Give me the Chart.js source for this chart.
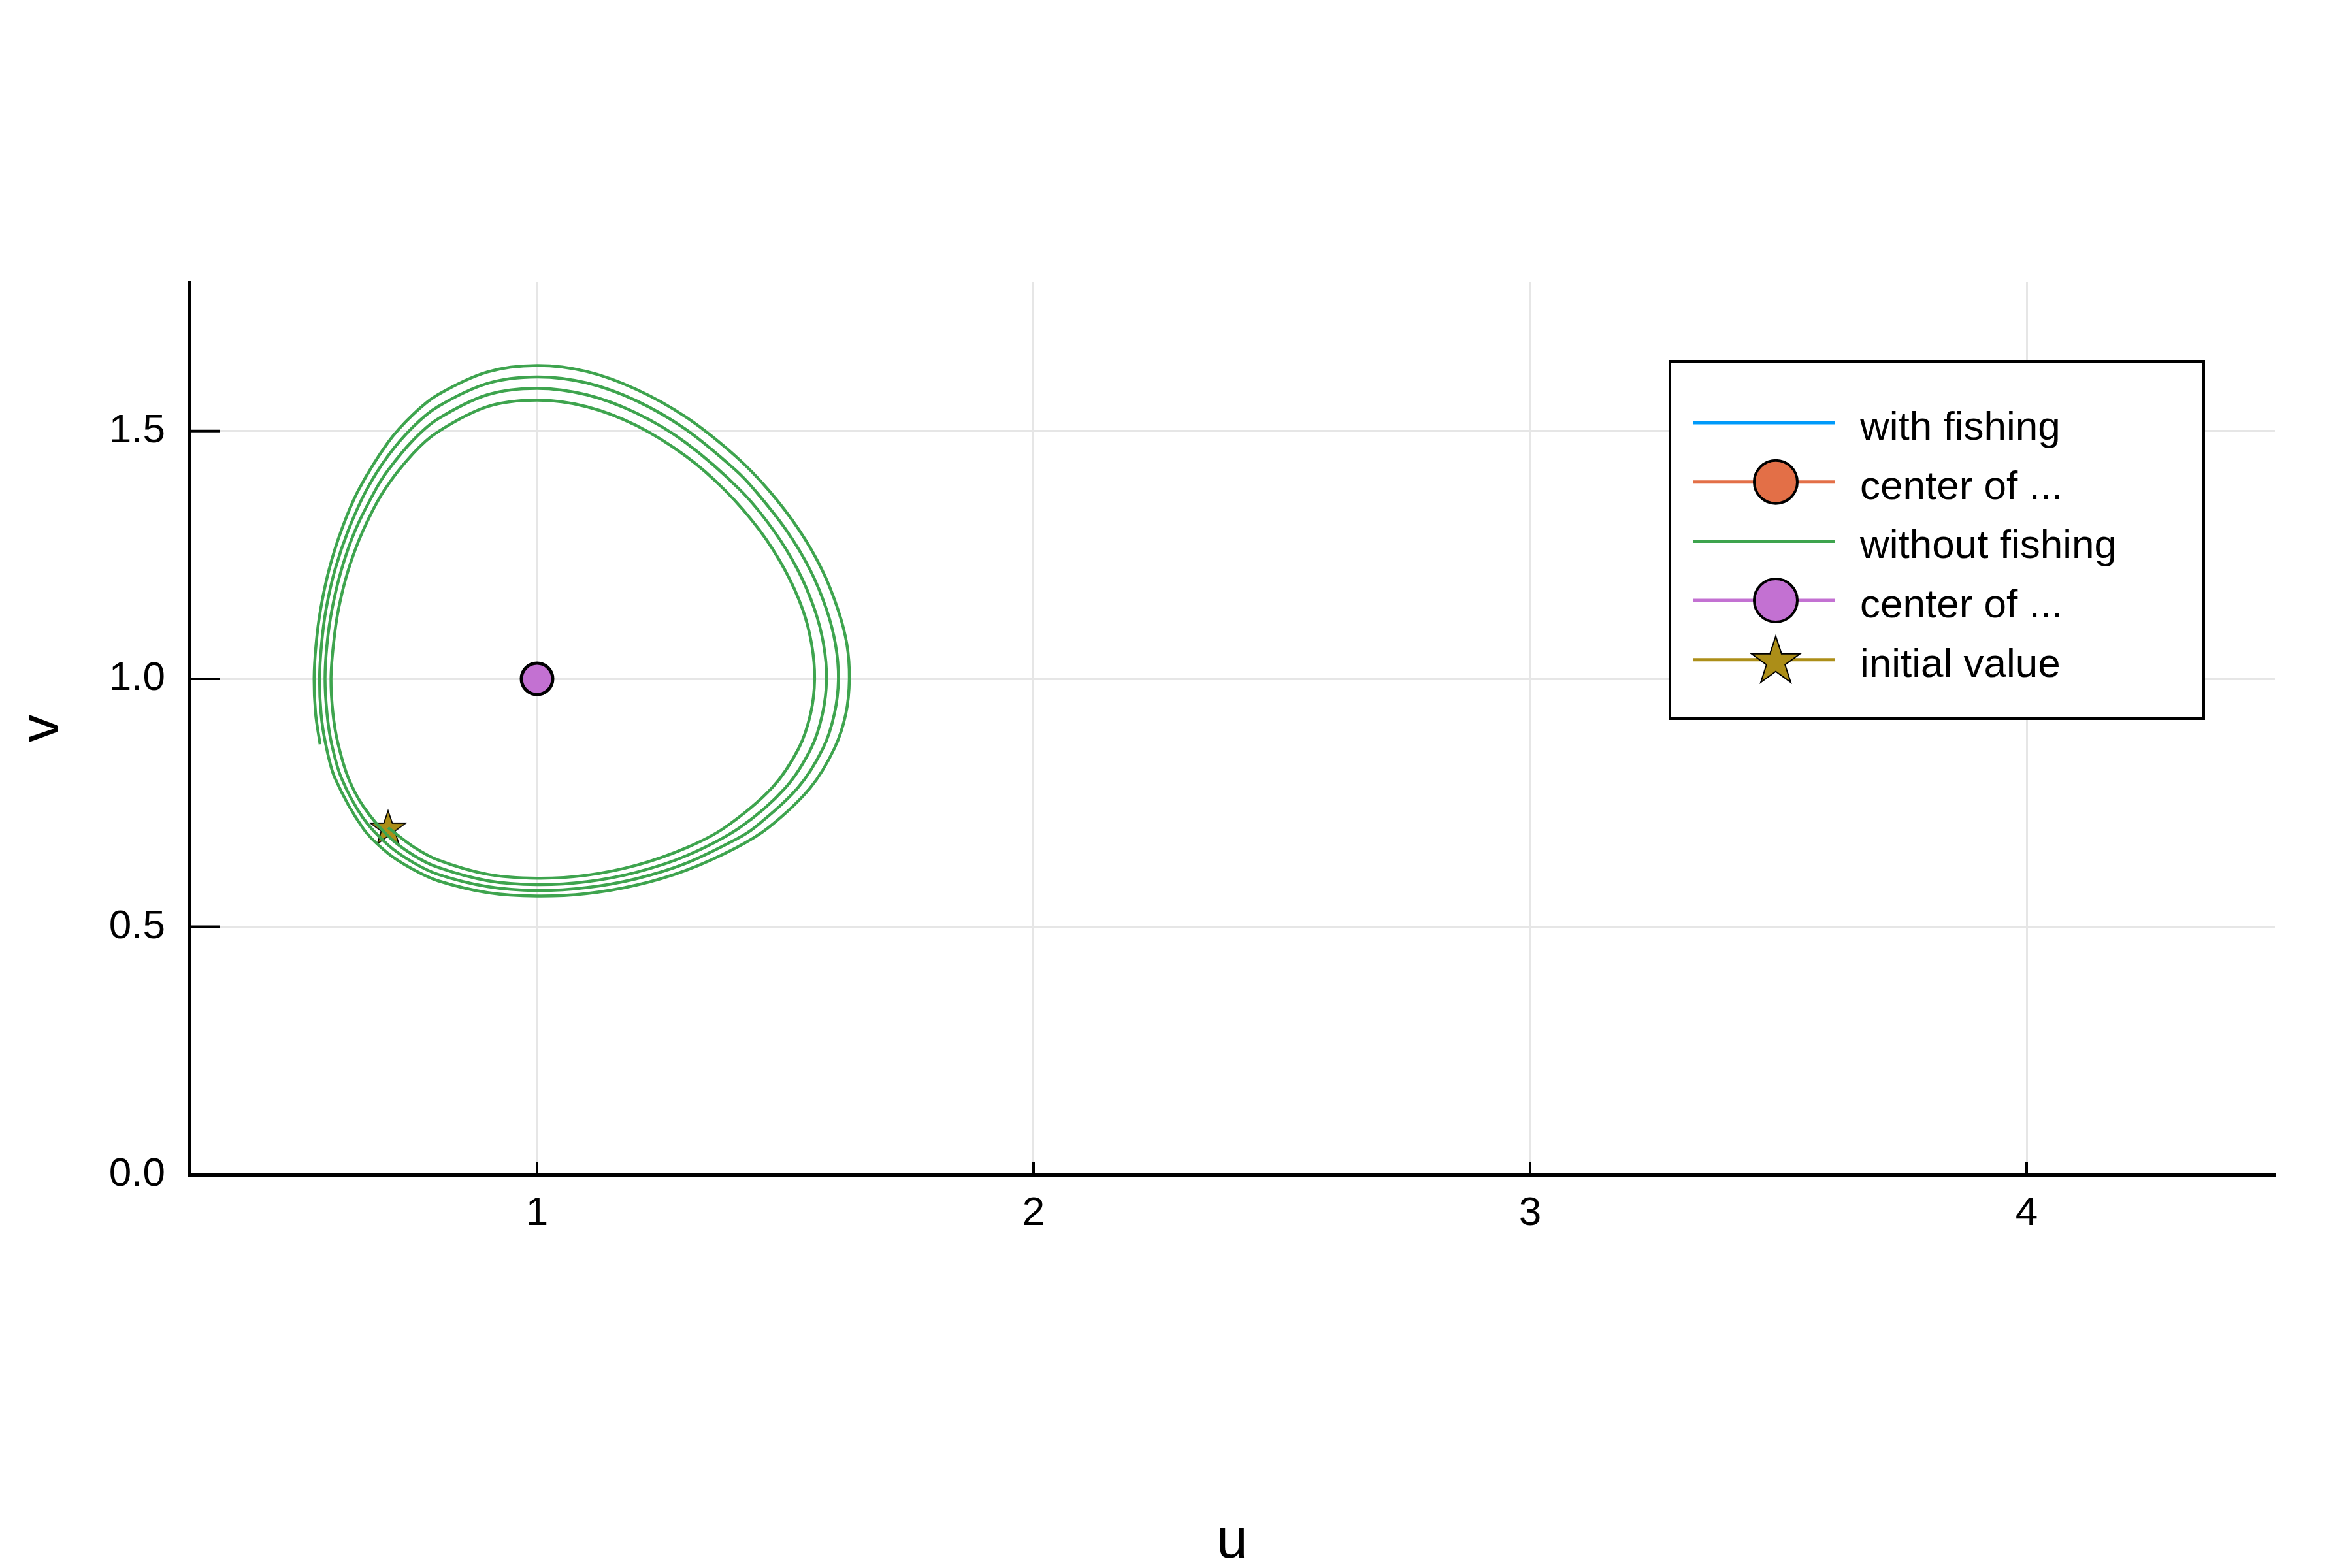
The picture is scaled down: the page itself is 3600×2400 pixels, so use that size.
<!DOCTYPE html>
<html>
<head>
<meta charset="utf-8">
<script src="https://cdn.jsdelivr.net/npm/chart.js@4"></script>
<style>
  html, body { margin: 0; padding: 0; background: #fff; }
  #wrap { width: 3600px; height: 2400px; }
</style>
</head>
<body>
<div id="wrap"><canvas id="phaseChart" width="3600" height="2400"></canvas></div>
<script>
// Phase plane data (u = prey, v = predator)
// trajectory without fishing: four laps, starting at the initial value
// each row = one lap: bottom -> right side -> top -> left side
const pathU = [
  0.700, 0.750, 0.800, 0.900, 1.000, 1.100, 1.200, 1.300, 1.378, 1.473, 1.527, 1.551, 1.559, 1.553, 1.535, 1.499, 1.448, 1.379, 1.300, 1.200, 1.100, 1.000, 0.900, 0.800, 0.750, 0.692, 0.650, 0.620, 0.600, 0.590, 0.585, 0.589, 0.599, 0.620, 0.650,
  0.700, 0.750, 0.800, 0.900, 1.000, 1.100, 1.200, 1.300, 1.408, 1.500, 1.552, 1.575, 1.583, 1.577, 1.559, 1.525, 1.476, 1.410, 1.300, 1.200, 1.100, 1.000, 0.900, 0.800, 0.750, 0.700, 0.674, 0.634, 0.606, 0.587, 0.577, 0.573, 0.577, 0.586, 0.606, 0.650,
  0.700, 0.750, 0.800, 0.900, 1.000, 1.100, 1.200, 1.300, 1.400, 1.438, 1.525, 1.576, 1.599, 1.607, 1.601, 1.583, 1.550, 1.502, 1.439, 1.400, 1.300, 1.200, 1.100, 1.000, 0.900, 0.800, 0.750, 0.700, 0.656, 0.620, 0.593, 0.575, 0.566, 0.562, 0.565, 0.574, 0.593, 0.650,
  0.700, 0.750, 0.800, 0.900, 1.000, 1.100, 1.200, 1.300, 1.400, 1.466, 1.550, 1.599, 1.622, 1.629, 1.624, 1.606, 1.574, 1.528, 1.467, 1.400, 1.300, 1.200, 1.100, 1.000, 0.900, 0.800, 0.750, 0.700, 0.640, 0.606, 0.581, 0.564, 0.555, 0.551, 0.554, 0.563
];
const pathV = [
  0.700, 0.662, 0.635, 0.606, 0.598, 0.604, 0.624, 0.659, 0.700, 0.780, 0.860, 0.930, 1.000, 1.070, 1.140, 1.220, 1.300, 1.380, 1.449, 1.511, 1.549, 1.562, 1.549, 1.498, 1.454, 1.380, 1.300, 1.220, 1.140, 1.070, 1.000, 0.930, 0.870, 0.800, 0.743,
  0.683, 0.645, 0.620, 0.593, 0.585, 0.591, 0.610, 0.643, 0.700, 0.780, 0.860, 0.930, 1.000, 1.070, 1.140, 1.220, 1.300, 1.380, 1.476, 1.536, 1.573, 1.586, 1.573, 1.524, 1.481, 1.421, 1.380, 1.300, 1.220, 1.140, 1.070, 1.000, 0.930, 0.870, 0.800, 0.719,
  0.665, 0.630, 0.606, 0.581, 0.573, 0.579, 0.597, 0.628, 0.676, 0.700, 0.780, 0.860, 0.930, 1.000, 1.070, 1.140, 1.220, 1.300, 1.380, 1.421, 1.503, 1.561, 1.597, 1.609, 1.596, 1.549, 1.508, 1.450, 1.380, 1.300, 1.220, 1.140, 1.070, 1.000, 0.930, 0.870, 0.800, 0.698,
  0.648, 0.616, 0.593, 0.569, 0.562, 0.567, 0.584, 0.614, 0.659, 0.700, 0.780, 0.860, 0.930, 1.000, 1.070, 1.140, 1.220, 1.300, 1.380, 1.449, 1.528, 1.584, 1.620, 1.632, 1.619, 1.573, 1.533, 1.477, 1.380, 1.300, 1.220, 1.140, 1.070, 1.000, 0.930, 0.868
];

// with fishing: nothing shows inside the plotted window
const fishingU = [];
const fishingV = [];
const fishingCenterU = [];
const fishingCenterV = [];

const centerU = [1.0];
const centerV = [1.0];
const initialU = [0.7];
const initialV = [0.7];

const xTickValues = [1, 2, 3, 4];
const yTickValues = [0, 0.5, 1.0, 1.5];

const toPoints = (us, vs) => us.map((u, i) => ({ x: u, y: vs[i] }));

const FONT = "'Liberation Sans', Arial, sans-serif";

// 5-pointed star, used for the marker and the legend
function drawStar(ctx, cx, cy, rOut, rIn, fill, lw) {
  ctx.beginPath();
  for (let i = 0; i < 10; i++) {
    const r = i % 2 === 0 ? rOut : rIn;
    const a = -Math.PI / 2 + i * Math.PI / 5;
    const px = cx + r * Math.cos(a);
    const py = cy + r * Math.sin(a);
    if (i === 0) ctx.moveTo(px, py); else ctx.lineTo(px, py);
  }
  ctx.closePath();
  ctx.fillStyle = fill;
  ctx.fill();
  ctx.lineWidth = lw;
  ctx.strokeStyle = '#000';
  ctx.stroke();
}

const starImg = document.createElement('canvas');
starImg.width = 62;
starImg.height = 62;
drawStar(starImg.getContext('2d'), 31, 33, 28, 11, '#ac8e18', 1.8);

// make sure the curve control points are in place before the line is stroked
const smoothLines = {
  id: 'smoothLines',
  beforeDatasetDraw(chart, args) {
    const line = args.meta.dataset;
    if (line && line.updateControlPoints) {
      line._pointsUpdated = false;
      line._path = undefined;
      line.updateControlPoints(chart.chartArea, 'x');
    }
  }
};

// short tick marks drawn inside the plot area
const innerTicks = {
  id: 'innerTicks',
  beforeDatasetsDraw(chart) {
    const { ctx, chartArea, scales } = chart;
    ctx.save();
    ctx.strokeStyle = '#000';
    ctx.lineWidth = 4;
    scales.y.ticks.forEach(t => {
      const py = scales.y.getPixelForValue(t.value);
      ctx.beginPath();
      ctx.moveTo(chartArea.left, py);
      ctx.lineTo(chartArea.left + 46, py);
      ctx.stroke();
    });
    scales.x.ticks.forEach(t => {
      const px = scales.x.getPixelForValue(t.value);
      ctx.beginPath();
      ctx.moveTo(px, chartArea.bottom);
      ctx.lineTo(px, chartArea.bottom - 19);
      ctx.stroke();
    });
    ctx.restore();
  }
};

// boxed legend in the upper right, line sample with marker
const boxLegend = {
  id: 'boxLegend',
  afterDraw(chart) {
    const ctx = chart.ctx;
    const bx = 2556, by = 553, bw = 817, bh = 547;
    ctx.save();
    ctx.fillStyle = '#fff';
    ctx.fillRect(bx, by, bw, bh);
    ctx.lineWidth = 4;
    ctx.strokeStyle = '#000';
    ctx.strokeRect(bx, by, bw, bh);
    chart.data.datasets.forEach((ds, i) => {
      const y = 647 + i * 90.7;
      ctx.beginPath();
      ctx.moveTo(2592, y);
      ctx.lineTo(2808, y);
      ctx.lineWidth = 5;
      ctx.strokeStyle = ds.legendColor;
      ctx.stroke();
      if (ds.legendMarker === 'circle') {
        ctx.beginPath();
        ctx.arc(2718, y, 33, 0, Math.PI * 2);
        ctx.fillStyle = ds.legendColor;
        ctx.fill();
        ctx.lineWidth = 4;
        ctx.strokeStyle = '#000';
        ctx.stroke();
      } else if (ds.legendMarker === 'star') {
        drawStar(ctx, 2718, y + 3, 39, 15, ds.legendColor, 2);
      }
      ctx.fillStyle = '#000';
      ctx.font = '62px ' + FONT;
      ctx.textBaseline = 'alphabetic';
      ctx.textAlign = 'left';
      ctx.fillText(ds.label, 2847, y + 26);
    });
    ctx.restore();
  }
};

const ctx = document.getElementById('phaseChart').getContext('2d');
new Chart(ctx, {
  type: 'scatter',
  data: {
    datasets: [
      {
        type: 'line',
        label: 'with fishing',
        data: toPoints(fishingU, fishingV),
        borderColor: '#009afa',
        borderWidth: 4.5,
        pointRadius: 0,
        tension: 0.33,
        fill: false,
        legendColor: '#009afa'
      },
      {
        label: 'center of ...',
        data: toPoints(fishingCenterU, fishingCenterV),
        backgroundColor: '#e36f47',
        borderColor: '#000',
        borderWidth: 5,
        pointRadius: 24,
        legendColor: '#e36f47',
        legendMarker: 'circle'
      },
      {
        type: 'line',
        label: 'without fishing',
        data: toPoints(pathU, pathV),
        borderColor: '#3ea44e',
        borderWidth: 4.5,
        pointRadius: 0,
        tension: 0.33,
        fill: false,
        legendColor: '#3ea44e'
      },
      {
        label: 'center of ...',
        data: toPoints(centerU, centerV),
        backgroundColor: '#c371d2',
        borderColor: '#000',
        borderWidth: 5,
        pointRadius: 24,
        legendColor: '#c371d2',
        legendMarker: 'circle'
      },
      {
        label: 'initial value',
        data: toPoints(initialU, initialV),
        pointStyle: starImg,
        pointRadius: 14,
        legendColor: '#ac8e18',
        legendMarker: 'star'
      }
    ]
  },
  options: {
    responsive: false,
    animation: false,
    devicePixelRatio: 1,
    layout: { padding: { top: 432, right: 118, bottom: 0, left: 0 } },
    plugins: {
      legend: { display: false },
      tooltip: { enabled: false }
    },
    scales: {
      x: {
        type: 'linear',
        min: 0.3,
        max: 4.5,
        afterBuildTicks: s => { s.ticks = xTickValues.map(v => ({ value: v })); },
        afterFit: s => { s.height = 602; },
        grid: { color: '#e6e6e6', lineWidth: 3, drawTicks: false },
        border: { display: true, color: '#000', width: 5 },
        ticks: {
          padding: 23,
          color: '#000',
          font: { family: FONT, size: 62 },
          callback: v => String(v)
        },
        title: {
          display: true,
          text: 'u',
          color: '#000',
          font: { family: FONT, size: 86, lineHeight: 0.8 },
          padding: { top: 0, bottom: 5 }
        }
      },
      y: {
        type: 'linear',
        min: 0,
        max: 1.8,
        afterBuildTicks: s => { s.ticks = yTickValues.map(v => ({ value: v })); },
        afterFit: s => { s.width = 290; },
        grid: { color: '#e6e6e6', lineWidth: 3, drawTicks: false },
        border: { display: true, color: '#000', width: 5 },
        ticks: {
          padding: 37,
          color: '#000',
          font: { family: FONT, size: 62 },
          callback: v => v.toFixed(1)
        },
        title: {
          display: true,
          text: 'v',
          color: '#000',
          font: { family: FONT, size: 86, lineHeight: 1 },
          padding: { top: 22, bottom: 0 }
        }
      }
    }
  },
  plugins: [smoothLines, innerTicks, boxLegend]
});
</script>
</body>
</html>
